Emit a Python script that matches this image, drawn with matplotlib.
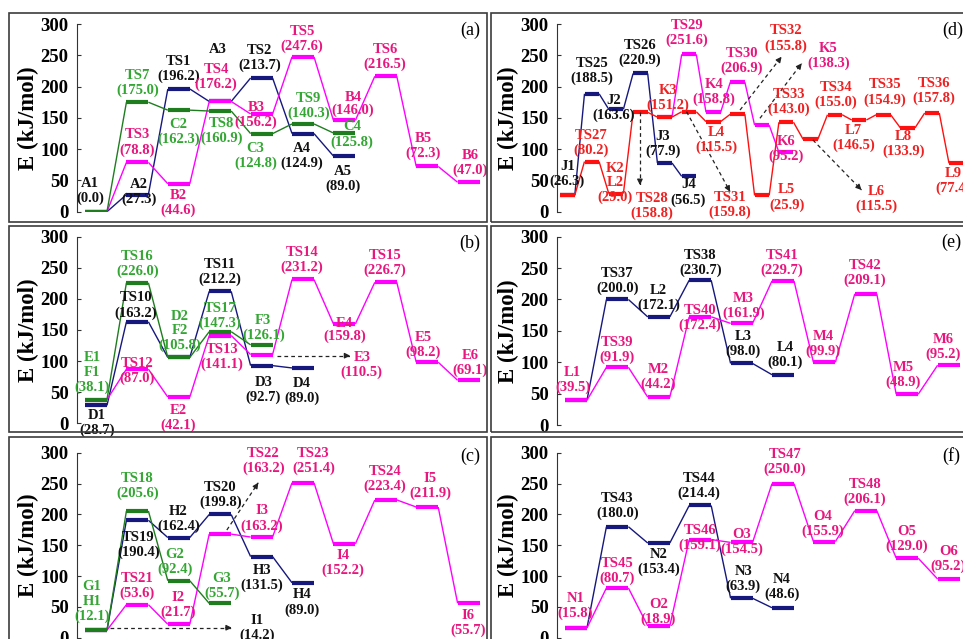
import matplotlib
matplotlib.use("Agg")
import matplotlib.pyplot as plt
from matplotlib.patches import Rectangle

W, H = 963, 639
plt.rcParams['font.family'] = ['Liberation Serif', 'DejaVu Serif']

NAVY = '#16187e'
GREEN_L = '#1f7d1f'
MAG = '#ff00ff'
RED = '#ff1010'
TXT = {'k': '#111111', 'g': '#33a633', 'p': '#e8177f', 'r': '#ee2222'}

# ---------------- Panel (a) ----------------
A_BLUE_S = [0, 1, 2, 3, 4, 5, 6]
A_BLUE_E = [0.0, 27.3, 196.2, 176.2, 213.7, 124.9, 89.0]
A_PINK_S = [0, 1, 2, 3, 4, 5, 6, 7, 8, 9]
A_PINK_E = [0.0, 78.8, 44.6, 176.2, 156.2, 247.6, 146.0, 216.5, 72.3, 47.0]
A_GREEN_S = [0, 1, 2, 3, 4, 5, 6]
A_GREEN_E = [0.0, 175.0, 162.3, 160.9, 124.8, 140.3, 125.8]
A_LABELS = [
    ("A1\n(0.0)", -0.14, 32.6, 'k'), ("A2\n(27.3)", 1.04, 31.5, 'k'),
    ("TS1\n(196.2)", 1.99, 228, 'k'), ("A3", 2.95, 258.5, 'k'),
    ("TS4\n(176.2)", 2.9, 215, 'p'), ("TS2\n(213.7)", 3.95, 245, 'k'),
    ("TS5\n(247.6)", 4.98, 276, 'p'), ("TS6\n(216.5)", 6.98, 247, 'p'),
    ("TS7\n(175.0)", 1.0, 205.7, 'g'), ("TS3\n(78.8)", 1.0, 110.6, 'p'),
    ("C2\n(162.3)", 1.99, 127.4, 'g'), ("TS8\n(160.9)", 3.04, 128.5, 'g'),
    ("B3\n(156.2)", 3.86, 154.5, 'p'), ("B2\n(44.6)", 1.99, 13.9, 'p'),
    ("C3\n(124.8)", 3.85, 89, 'g'), ("A4\n(124.9)", 4.97, 89, 'k'),
    ("TS9\n(140.3)", 5.13, 169, 'g'), ("B4", 6.21, 182.0, 'p'),
    ("(146.0)", 6.21, 162.0, 'p'), ("C4\n(125.8)", 6.18, 123.4, 'g'),
    ("A5\n(89.0)", 5.97, 52.3, 'k'), ("B5\n(72.3)", 7.9, 105, 'p'),
    ("B6\n(47.0)", 9.03, 77.8, 'p'),
]

# ---------------- Panel (b) ----------------
B_BLUE_S = [0, 1, 2, 3, 4, 5]
B_BLUE_E = [28.7, 163.2, 105.8, 212.2, 92.7, 89.0]
B_PINK_S = [0, 1, 2, 3, 4, 5, 6, 7, 8, 9]
B_PINK_E = [38.1, 87.0, 42.1, 141.1, 110.5, 231.2, 159.8, 226.7, 98.2, 69.1]
B_GREEN_S = [0, 1, 2, 3, 4]
B_GREEN_E = [38.1, 226.0, 105.8, 147.3, 126.1]
B_LABELS = [
    ("TS16\n(226.0)", 1.0, 255.8, 'g'), ("TS10\n(163.2)", 0.97, 189.4, 'k'),
    ("E1\nF1\n(38.1)", -0.1, 81.5, 'g'), ("D1\n(28.7)", 0.02, 0.8, 'k'),
    ("TS12\n(87.0)", 1.0, 84.4, 'p'), ("D2\nF2\n(105.8)", 2.03, 148.6, 'g'),
    ("TS11\n(212.2)", 3.0, 243.7, 'k'), ("TS17\n(147.3)", 3.0, 172.2, 'g'),
    ("TS13\n(141.1)", 3.04, 106.3, 'p'), ("F3\n(126.1)", 4.04, 152.9, 'g'),
    ("D3\n(92.7)", 4.04, 54.3, 'k'), ("D4\n(89.0)", 4.97, 52.7, 'k'),
    ("TS14\n(231.2)", 4.97, 263, 'p'), ("E4", 6.0, 160.5, 'p'),
    ("(159.8)", 6.0, 140.5, 'p'), ("TS15\n(226.7)", 6.98, 258, 'p'),
    ("E3\n(110.5)", 6.42, 94, 'p'), ("E5\n(98.2)", 7.9, 125.9, 'p'),
    ("E6\n(69.1)", 9.03, 96.6, 'p'), ("E2\n(42.1)", 1.99, 8.8, 'p'),
]
B_ARROWS = [((4.36, 108.7), (6.14, 108.7))]

# ---------------- Panel (c) ----------------
C_BLUE_S = [0, 1, 2, 3, 4, 5]
C_BLUE_E = [12.1, 190.4, 162.4, 199.8, 131.5, 89.0]
C_PINK_S = [0, 1, 2, 3, 4, 5, 6, 7, 8, 9]
C_PINK_E = [12.1, 53.6, 21.7, 168.0, 163.2, 251.4, 152.2, 223.4, 211.9, 55.7]
C_GREEN_S = [0, 1, 2, 3]
C_GREEN_E = [12.1, 205.6, 92.4, 55.7]
C_LABELS = [
    ("G1\nH1\n(12.1)", -0.1, 58.4, 'g'), ("TS18\n(205.6)", 1.0, 246.3, 'g'),
    ("TS19\n(190.4)", 1.02, 150.8, 'k'), ("TS21\n(53.6)", 1.0, 84.2, 'p'),
    ("H2\n(162.4)", 1.99, 192.8, 'k'), ("G2\n(92.4)", 1.9, 122, 'g'),
    ("I2\n(21.7)", 1.99, 52.7, 'p'), ("TS20\n(199.8)", 3.0, 231.4, 'k'),
    ("G3\n(55.7)", 3.04, 84.2, 'g'), ("TS22\n(163.2)", 4.04, 286.8, 'p'),
    ("TS23\n(251.4)", 5.25, 286.5, 'p'), ("I3\n(163.2)", 4.0, 193.3, 'p'),
    ("H3\n(131.5)", 4.0, 96.8, 'k'), ("H4\n(89.0)", 4.97, 57.1, 'k'),
    ("I1\n(14.2)", 3.88, 16.5, 'k'), ("I4\n(152.2)", 5.97, 120.6, 'p'),
    ("TS24\n(223.4)", 6.98, 257, 'p'), ("I5\n(211.9)", 8.07, 246.3, 'p'),
    ("I6\n(55.7)", 8.99, 23.3, 'p'),
]
C_ARROWS = [((0.34, 16.2), (3.28, 16.2)), ((3.16, 174.6), (3.92, 251.3))]

# ---------------- Panel (d) ----------------
D_BLUE_S = [0, 1, 2, 3, 4, 5]
D_BLUE_E = [26.3, 188.5, 163.6, 220.9, 77.9, 56.5]
D_PINK_S = [4, 5, 6, 7, 8, 9]
D_PINK_E = [151.2, 251.6, 158.8, 206.9, 138.3, 95.2]
D_RED_S = list(range(17))
D_RED_E = [26.3, 80.2, 29.0, 158.8, 151.2, 159.8, 144.0, 155.8, 25.9,
           143.0, 115.5, 155.0, 146.5, 154.9, 133.9, 157.8, 77.4]
D_LABELS = [
    ("TS25\n(188.5)", 1.0, 225.2, 'k'), ("J2\n(163.6)", 1.91, 165.4, 'k'),
    ("TS26\n(220.9)", 2.98, 253.2, 'k'), ("TS27\n(80.2)", 0.97, 109.3, 'r'),
    ("J1\n(26.3)", 0.0, 60.6, 'k'), ("K2\nL2\n(29.0)", 1.95, 45.9, 'r'),
    ("TS28\n(158.8)", 3.47, 9.4, 'r'), ("K3\n(151.2)", 4.12, 181.7, 'r'),
    ("J3\n(77.9)", 3.93, 108.7, 'k'), ("J4\n(56.5)", 4.97, 30.7, 'k'),
    ("TS29\n(251.6)", 4.9, 285.6, 'p'), ("K4\n(158.8)", 6.03, 191, 'p'),
    ("TS30\n(206.9)", 7.17, 241.2, 'p'), ("L4\n(115.5)", 6.14, 114.6, 'r'),
    ("TS31\n(159.8)", 6.69, 10.2, 'r'), ("TS32\n(155.8)", 8.99, 276.8, 'r'),
    ("K5\n(138.3)", 10.73, 249.2, 'p'), ("TS33\n(143.0)", 9.12, 175, 'r'),
    ("K6\n(95.2)", 8.99, 99.9, 'p'), ("L5\n(25.9)", 9.02, 22.7, 'r'),
    ("TS34\n(155.0)", 11.05, 186.2, 'r'), ("L7\n(146.5)", 11.78, 117.3, 'r'),
    ("TS35\n(154.9)", 13.07, 190.5, 'r'), ("L8\n(133.9)", 13.82, 108.5, 'r'),
    ("TS36\n(157.8)", 15.08, 193.2, 'r'), ("L9\n(77.4)", 15.86, 49.1, 'r'),
    ("L6\n(115.5)", 12.72, 20, 'r'),
]
D_ARROWS = [((2.98, 159.2), (2.98, 42.7)), ((4.9, 159.8), (6.69, 32)),
            ((7.1, 162.5), (8.81, 247.7)), ((7.92, 149.3), (9.64, 237.2)),
            ((10.1, 114.6), (12.1, 34.7))]

# ---------------- Panel (e) ----------------
E_BLUE_S = [0, 1, 2, 3, 4, 5]
E_BLUE_E = [39.5, 200.0, 172.1, 230.7, 98.0, 80.1]
E_PINK_S = [0, 1, 2, 3, 4, 5, 6, 7, 8, 9]
E_PINK_E = [39.5, 91.9, 44.2, 172.4, 161.9, 229.7, 99.9, 209.1, 48.9, 95.2]
E_LABELS = [
    ("L1\n(39.5)", -0.08, 71.7, 'p'), ("TS37\n(200.0)", 1.0, 228.9, 'k'),
    ("TS39\n(91.9)", 1.0, 119.1, 'p'), ("L2\n(172.1)", 1.99, 202.6, 'k'),
    ("M2\n(44.2)", 1.99, 76.2, 'p'), ("TS38\n(230.7)", 3.0, 258.4, 'k'),
    ("TS40\n(172.4)", 3.0, 170, 'p'), ("M3\n(161.9)", 4.04, 189.8, 'p'),
    ("L3\n(98.0)", 4.04, 128.7, 'k'), ("L4\n(80.1)", 5.05, 111.8, 'k'),
    ("TS41\n(229.7)", 4.97, 258.4, 'p'), ("M4\n(99.9)", 5.97, 128.7, 'p'),
    ("TS42\n(209.1)", 6.98, 242.9, 'p'), ("M5\n(48.9)", 7.9, 79.2, 'p'),
    ("M6\n(95.2)", 8.87, 123.9, 'p'),
]

# ---------------- Panel (f) ----------------
F_BLUE_S = [0, 1, 2, 3, 4, 5]
F_BLUE_E = [15.8, 180.0, 153.4, 214.4, 63.9, 48.6]
F_PINK_S = [0, 1, 2, 3, 4, 5, 6, 7, 8, 9]
F_PINK_E = [15.8, 80.7, 18.9, 159.1, 154.5, 250.0, 155.9, 206.1, 129.0, 95.2]
F_LABELS = [
    ("N1\n(15.8)", -0.02, 51.7, 'p'), ("TS43\n(180.0)", 1.0, 213, 'k'),
    ("TS45\n(80.7)", 1.0, 108.5, 'p'), ("N2\n(153.4)", 1.99, 122, 'k'),
    ("O2\n(18.9)", 1.99, 42.2, 'p'), ("TS44\n(214.4)", 2.97, 246.3, 'k'),
    ("TS46\n(159.1)", 3.0, 161.7, 'p'), ("O3\n(154.5)", 4.0, 155.2, 'p'),
    ("N3\n(63.9)", 4.04, 94.9, 'k'), ("N4\n(48.6)", 4.97, 82.2, 'k'),
    ("TS47\n(250.0)", 5.05, 285.4, 'p'), ("O4\n(155.9)", 5.97, 184.7, 'p'),
    ("TS48\n(206.1)", 6.98, 236.6, 'p'), ("O5\n(129.0)", 7.99, 160.5, 'p'),
    ("O6\n(95.2)", 8.99, 127.9, 'p'),
]

YTICKS = [0, 50, 100, 150, 200, 250, 300]

fig = plt.figure(figsize=(W / 100, H / 100), dpi=100)


def frame(x0, y0, x1, y1):
    fig.patches.append(Rectangle((x0 / W, 1 - y1 / H), (x1 - x0) / W, (y1 - y0) / H,
                                 transform=fig.transFigure, fill=False,
                                 edgecolor='#3c3c3c', lw=1.2, zorder=10))


for x0, x1 in [(9.3, 486.5), (491, 985)]:
    for y0, y1 in [(12.7, 222), (226, 432), (437, 660)]:
        frame(x0, y0, x1, y1)


def make_axes(left, right, top, bottom, xmin, xmax, letter, lx, ly):
    ax = fig.add_axes([left / W, 1 - bottom / H, (right - left) / W, (bottom - top) / H])
    ax.set_xlim(xmin, xmax)
    ax.set_ylim(0, 300)
    for s in ['top', 'right', 'bottom']:
        ax.spines[s].set_visible(False)
    ax.spines['left'].set_color('#333333')
    ax.spines['left'].set_linewidth(0.8)
    ax.set_xticks([])
    ax.set_yticks(YTICKS)
    ax.tick_params(axis='y', direction='in', length=3, width=0.8, pad=6,
                   labelsize=13.5, colors='#333333', labelcolor='black')
    for t in ax.get_yticklabels():
        t.set_fontweight('bold')
    ax.patch.set_alpha(0)
    ax.text(-49 / (right - left), 0.5, 'E (kJ/mol)', transform=ax.transAxes,
            rotation=90, ha='center', va='center', fontsize=16.5, fontweight='bold')
    ax.text(lx, ly, letter, ha='center', va='center', fontsize=13)
    return ax


def series(ax, steps, energies, bar_color, line_color, w):
    for i in range(len(steps) - 1):
        ax.plot([steps[i] + w / 2, steps[i + 1] - w / 2], [energies[i], energies[i + 1]],
                color=line_color, lw=1.0, zorder=2, solid_capstyle='butt')
    ax.hlines(energies, [s - w / 2 for s in steps], [s + w / 2 for s in steps],
              color=bar_color, lw=3.0, zorder=3)


def labels(ax, items):
    for txt, x, y, c in items:
        ax.text(x, y, txt, ha='center', va='center', fontsize=10.5, fontweight='bold',
                color=TXT[c], linespacing=1.15, zorder=5)


def arrows(ax, items):
    for (x0, y0), (x1, y1) in items:
        ax.plot([x0, x1], [y0, y1], ls=(0, (3, 2.5)), color='#222222', lw=0.9, zorder=4)
        ax.annotate('', xy=(x1, y1), xytext=(x1 - 0.05 * (x1 - x0), y1 - 0.05 * (y1 - y0)),
                    arrowprops=dict(arrowstyle='-|>', color='#222222', lw=0.9,
                                    mutation_scale=8, shrinkA=0, shrinkB=0), zorder=4)


WL = 0.53
# (a)
ax = make_axes(77, 486, 24, 211.7, -0.459, 9.42, '(a)', 9.03, 290.4)
series(ax, A_BLUE_S, A_BLUE_E, NAVY, NAVY, WL)
series(ax, A_PINK_S, A_PINK_E, MAG, MAG, WL)
series(ax, A_GREEN_S, A_GREEN_E, GREEN_L, GREEN_L, WL)
labels(ax, A_LABELS)

# (b)
ax = make_axes(77, 486, 236.7, 423.3, -0.459, 9.42, '(b)', 9.03, 289.4)
series(ax, B_BLUE_S, B_BLUE_E, NAVY, NAVY, WL)
series(ax, B_PINK_S, B_PINK_E, MAG, MAG, WL)
series(ax, B_GREEN_S, B_GREEN_E, GREEN_L, GREEN_L, WL)
labels(ax, B_LABELS)
arrows(ax, B_ARROWS)

# (c)
ax = make_axes(77, 486, 452.7, 637.7, -0.459, 9.42, '(c)', 9.03, 293.5)
series(ax, C_BLUE_S, C_BLUE_E, NAVY, NAVY, WL)
series(ax, C_PINK_S, C_PINK_E, MAG, MAG, WL)
series(ax, C_GREEN_S, C_GREEN_E, GREEN_L, GREEN_L, WL)
labels(ax, C_LABELS)
arrows(ax, C_ARROWS)

# (d)
ax = make_axes(557, 963, 24, 211.7, -0.432, 16.276, '(d)', 15.86, 290.4)
series(ax, D_BLUE_S, D_BLUE_E, NAVY, NAVY, 0.6)
series(ax, D_PINK_S, D_PINK_E, MAG, MAG, 0.6)
series(ax, D_RED_S, D_RED_E, RED, RED, 0.6)
labels(ax, D_LABELS)
arrows(ax, D_ARROWS)

# (e)
ax = make_axes(557, 963, 236.7, 425, -0.459, 9.348, '(e)', 9.07, 291)
series(ax, E_BLUE_S, E_BLUE_E, NAVY, NAVY, WL)
series(ax, E_PINK_S, E_PINK_E, MAG, MAG, WL)
labels(ax, E_LABELS)

# (f)
ax = make_axes(557, 963, 452.7, 637.7, -0.459, 9.348, '(f)', 9.07, 294.6)
series(ax, F_BLUE_S, F_BLUE_E, NAVY, NAVY, WL)
series(ax, F_PINK_S, F_PINK_E, MAG, MAG, WL)
labels(ax, F_LABELS)

fig.savefig('out.png', dpi=100)
